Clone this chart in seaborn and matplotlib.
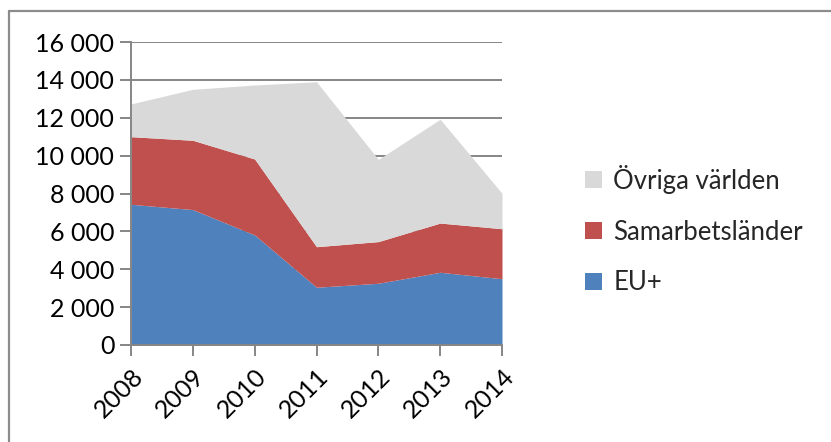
import matplotlib
matplotlib.use("Agg")
import matplotlib.pyplot as plt
import matplotlib.ticker as mticker
from matplotlib.lines import Line2D
from matplotlib.patches import Patch
import seaborn as sns
import pandas as pd

years = [2008, 2009, 2010, 2011, 2012, 2013, 2014]
eu = [7430, 7150, 5810, 3050, 3260, 3840, 3500]
samarbete = [3570, 3660, 4010, 2140, 2200, 2600, 2640]
ovriga = [1730, 2690, 3910, 8710, 4340, 5480, 1870]

series = ["EU+", "Samarbetsländer", "Övriga världen"]
colors = ["#4F81BD", "#C0504D", "#D9D9D9"]

df = pd.DataFrame({"År": years, "EU+": eu, "Samarbetsländer": samarbete,
                   "Övriga världen": ovriga})

sns.set_style("white")
plt.rcParams["font.family"] = ["Lato", "DejaVu Sans"]

W, H = 831, 442
fig = plt.figure(figsize=(W / 100, H / 100), dpi=100)
ax = fig.add_axes([131 / W, 1 - 345 / H, (502 - 131) / W, (345 - 42) / H])

ax.stackplot(df["År"], *[df[s] for s in series], colors=colors, linewidth=0)

grid_c = "#868686"
ax.set_xlim(years[0], years[-1])
ax.set_ylim(0, 16000)
ax.set_yticks(range(0, 16001, 2000))
ax.set_xticks(years)
ax.yaxis.set_major_formatter(
    mticker.FuncFormatter(lambda v, p: f"{int(v):,}".replace(",", " ")))
ax.grid(axis="y", color=grid_c, linewidth=1.4, zorder=0)
ax.set_axisbelow(True)
for side in ["top", "right"]:
    ax.spines[side].set_visible(False)
for side in ["left", "bottom"]:
    ax.spines[side].set_color(grid_c)
    ax.spines[side].set_linewidth(1.4)
ax.tick_params(axis="both", which="major", direction="out", length=8,
               width=1.4, color=grid_c, labelsize=18, labelcolor="black")
ax.tick_params(axis="x", pad=6, bottom=True)
ax.tick_params(axis="y", pad=4, left=True)
for lbl in ax.get_xticklabels():
    lbl.set_rotation(45)
    lbl.set_ha("right")
    lbl.set_rotation_mode("anchor")

handles = [Patch(facecolor=c, edgecolor="none") for c in colors][::-1]
fig.legend(handles, series[::-1], loc="center left",
           bbox_to_anchor=(562 / W, 1 - 230 / H), frameon=False,
           fontsize=18.5, handlelength=0.65, handleheight=0.65,
           handletextpad=0.45, labelspacing=1.0)

# outer chart frame (top and left edges visible)
fig.add_artist(Line2D([8.5 / W, 8.5 / W], [0, 1 - 10.5 / H],
                      transform=fig.transFigure, color="#8C8C8C", lw=1.6))
fig.add_artist(Line2D([8.5 / W, 1], [1 - 10.5 / H, 1 - 10.5 / H],
                      transform=fig.transFigure, color="#8C8C8C", lw=1.6))

fig.savefig("out.png", dpi=100)
